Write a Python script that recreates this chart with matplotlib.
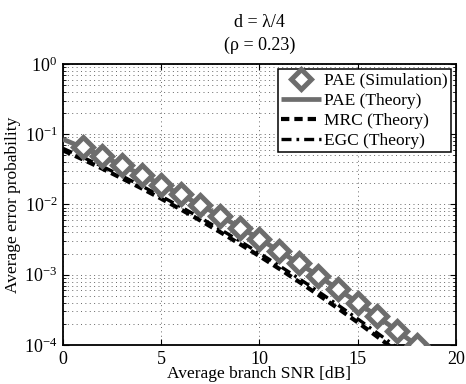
import matplotlib

matplotlib.use("Agg")
import matplotlib.pyplot as plt
from matplotlib.ticker import LogLocator, NullFormatter

plt.rcParams["font.family"] = ["Liberation Serif", "DejaVu Serif"]
plt.rcParams["mathtext.fontset"] = "stix"

# values (average error probability vs branch SNR)
snr_theory = [0, 1, 2, 3, 4, 5, 6, 7, 8, 9, 10, 11, 12, 13, 14, 15, 16, 17, 18]
pae_theory = [0.0851, 0.0647, 0.0488, 0.0362, 0.0265, 0.0193, 0.0138, 0.00980, 0.00686, 0.00473,
              0.00324, 0.00218, 0.00146, 0.000959, 0.000624, 0.000401, 0.000255, 0.000160, 0.0000991]
mrc_theory = [0.0590, 0.0440, 0.0324, 0.0236, 0.0170, 0.01210, 0.00850, 0.00590, 0.00405, 0.00274,
              0.00184, 0.00122, 0.000798, 0.000517, 0.000331, 0.000210, 0.000131, 0.0000810, 0.0000490]
egc_theory = [0.0630, 0.0472, 0.0349, 0.0255, 0.0184, 0.0131, 0.00925, 0.00645, 0.00444, 0.00302,
              0.00203, 0.00135, 0.000887, 0.000576, 0.000370, 0.000235, 0.000148, 0.0000920, 0.0000565]

snr_sim = [1, 2, 3, 4, 5, 6, 7, 8, 9, 10, 11, 12, 13, 14, 15, 16, 17, 18]
pae_sim = [0.0660, 0.0490, 0.0365, 0.0266, 0.0192, 0.0139, 0.00975, 0.00690, 0.00470,
           0.00326, 0.00219, 0.00147, 0.000955, 0.000628, 0.000398, 0.000256, 0.000158, 0.000100]

x_ticks = [0, 5, 10, 15, 20]
gray = "#6d6d6d"

fig = plt.figure(figsize=(4.66, 3.84), dpi=100)
ax = fig.add_axes([0.135, 0.1016, 0.8435, 0.7317])

ax.plot(snr_theory, pae_theory, color=gray, lw=3.4, solid_capstyle="butt", label="PAE (Theory)", zorder=3)
ax.plot(snr_theory, mrc_theory, color="black", lw=3.0, ls=(0, (2.0, 1.2)), label="MRC (Theory)", zorder=4)
ax.plot(snr_theory, egc_theory, color="black", lw=2.4, ls=(0, (3.0, 1.5, 0.8, 1.5)), label="EGC (Theory)", zorder=4)
ax.plot(snr_sim, pae_sim, ls="none", marker="D", ms=10.5, mfc="white", mec=gray, mew=3.6,
        label="PAE (Simulation)", zorder=5)

ax.set_yscale("log")
ax.set_xlim(0, 20)
ax.set_ylim(1e-4, 1)
ax.set_xticks(x_ticks)
ax.yaxis.set_major_locator(LogLocator(base=10, numticks=10))
ax.yaxis.set_minor_locator(LogLocator(base=10, subs=range(2, 10), numticks=20))
ax.yaxis.set_minor_formatter(NullFormatter())

ax.grid(True, which="major", ls=(0, (1, 3.5)), color="#666666", lw=0.7)
ax.grid(True, which="minor", axis="y", ls=(0, (1, 3.5)), color="#666666", lw=0.7)
ax.tick_params(which="both", direction="in", top=True, right=True, labelsize=13, pad=4)
ax.tick_params(which="major", length=4)
ax.tick_params(which="minor", length=2)
for s in ax.spines.values():
    s.set_linewidth(1.3)

ax.set_xlabel("Average branch SNR [dB]", fontsize=12.5, labelpad=-1)
ax.set_ylabel("Average error probability", fontsize=12.5, labelpad=2)
ax.set_title("d = λ/4\n(ρ = 0.23)", fontsize=13, pad=10, linespacing=1.45)

handles, labels = ax.get_legend_handles_labels()
order = [3, 0, 1, 2]
leg = ax.legend([handles[i] for i in order], [labels[i] for i in order], loc="upper right",
                fontsize=12.5, frameon=True, fancybox=False, framealpha=1, edgecolor="black",
                handlelength=2.3, handletextpad=0.15, borderpad=0.2, labelspacing=0.22,
                borderaxespad=0.3)
leg.get_frame().set_linewidth(1.1)

fig.savefig("out.png", dpi=100)
